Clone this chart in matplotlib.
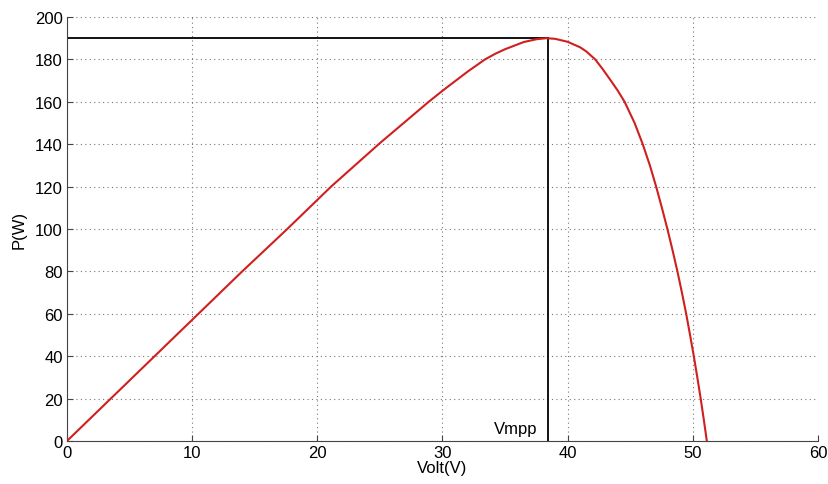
"""
PV module P-V curve with maximum power point
"""
import matplotlib
matplotlib.use('Agg')
import matplotlib.pyplot as plt

# Values
volt = [0, 3.5, 7.0, 10.5, 14.0, 17.6, 21.1, 25.0, 28.9, 30.0, 32.0,
        33.4, 34.2, 35.0, 36.5, 37.5, 38.3, 39.0, 40.0, 41.0, 41.5,
        42.2, 42.8, 43.45, 44.0, 44.55, 45.35, 46.0, 46.57, 47.07, 47.53,
        47.97, 48.38, 48.77, 49.13, 49.47, 49.78, 50.08, 50.36, 50.63,
        50.88, 51.12]
power = [0, 20, 40, 60, 80, 100, 120, 140.5, 160, 165.2, 174.2,
         180, 182.6, 184.8, 188.2, 189.5, 190, 189.7, 188.3, 185.7, 183.7,
         180, 175.4, 170, 165.3, 160, 150, 140, 130, 120, 110,
         100, 90, 80, 70, 60, 50, 40, 30, 20,
         10, 0]

vmpp = 38.4
pmpp = 190

plt.rcParams['font.family'] = ['Liberation Sans', 'DejaVu Sans']

fig = plt.figure(figsize=(8.29, 4.85), dpi=100)
ax = fig.add_axes([0.0808, 0.0887, 0.9059, 0.8742])

ax.plot(volt, power, color='#cf1f1f', lw=1.5, zorder=3)

# max power point markers
ax.plot([0, vmpp], [pmpp, pmpp], color='black', lw=1.3, zorder=2)
ax.plot([vmpp, vmpp], [0, pmpp], color='black', lw=1.3, zorder=2)
ax.text(vmpp - 0.8, 4, 'Vmpp', ha='right', va='baseline', fontsize=12)

ax.set_xlim(0, 60)
ax.set_ylim(0, 200)
ax.set_xticks(range(0, 61, 10))
ax.set_yticks(range(0, 201, 20))
ax.grid(True, linestyle=(0, (1, 3)), color='#777777', lw=0.8)
ax.tick_params(direction='in', length=4, labelsize=12, pad=3, color='#444444')

for s in ['top', 'right']:
    ax.spines[s].set_visible(False)
for s in ['left', 'bottom']:
    ax.spines[s].set_color('#444444')

ax.set_xlabel('Volt(V)', fontsize=12, labelpad=0)
ax.set_ylabel('P(W)', fontsize=12, labelpad=6)

fig.savefig('out.png', dpi=100)
